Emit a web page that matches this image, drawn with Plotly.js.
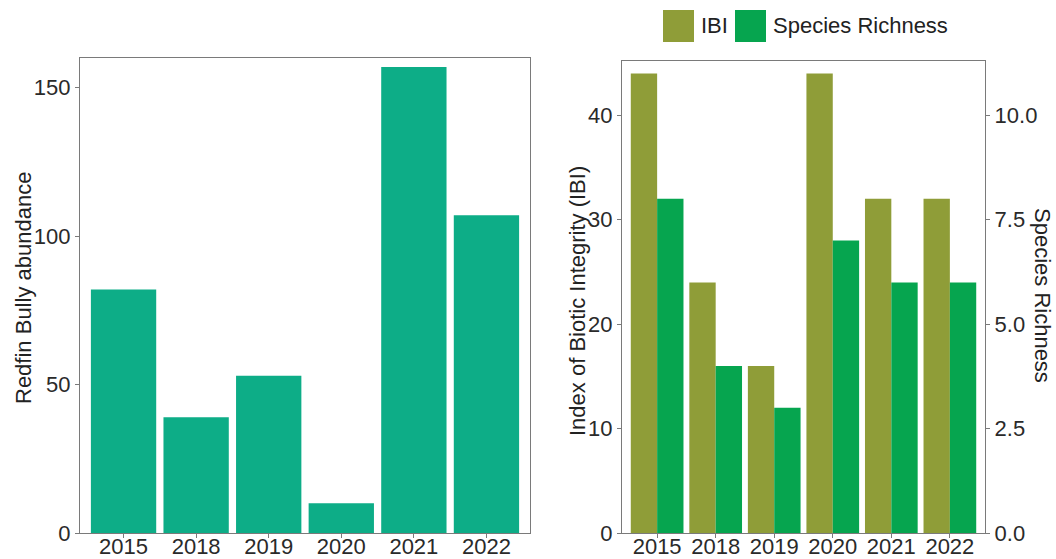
<!DOCTYPE html>
<html>
<head>
<meta charset="utf-8">
<script src="https://cdn.plot.ly/plotly-3.0.1.min.js"></script>
<style>html,body{margin:0;padding:0;background:#fff;}#chart{width:1056px;height:559px;}</style>
</head>
<body>
<div id="chart"></div>
<script>
// ---- data ----
const years = ['2015', '2018', '2019', '2020', '2021', '2022'];
const redfinAbundance = [82, 39, 53, 10, 157, 107];
const ibiValues = [44, 24, 16, 44, 32, 32];
const speciesRichness = [8, 4, 3, 7, 6, 6];
const seriesNames = ['IBI', 'Species Richness'];

// ---- styles ----
const W = 1056, H = 559;
const FONT = 'Liberation Sans, Arial, sans-serif';
const colRedfin = '#0DAD87';
const colIBI = '#8F9D38';
const colSR = '#06A54F';
const lineCol = '#7a7a7a';
const tickFont = {family: FONT, size: 22, color: '#2a2a2a'};

const px = v => v / W;
const py = v => 1 - v / H;

const baseAxis = {
  showline: true, linecolor: lineCol, linewidth: 1.2, mirror: true,
  ticks: 'outside', ticklen: 4, tickcolor: lineCol, tickwidth: 1,
  showgrid: false, zeroline: false, tickfont: tickFont, automargin: false
};

const xExtra = {type: 'category', range: [-0.6, 5.6], ticklabelstandoff: -11};

const traces = [
  {type: 'bar', x: years, y: redfinAbundance, xaxis: 'x', yaxis: 'y',
   marker: {color: colRedfin}, showlegend: false, hoverinfo: 'x+y'},
  {type: 'bar', name: seriesNames[0], x: years, y: ibiValues, xaxis: 'x2', yaxis: 'y2',
   offsetgroup: 'ibi', marker: {color: colIBI}, showlegend: false},
  {type: 'bar', name: seriesNames[1], x: years, y: speciesRichness, xaxis: 'x2', yaxis: 'y3',
   offsetgroup: 'sr', marker: {color: colSR}, showlegend: false}
];

const titleFont = {family: FONT, size: 22, color: '#222'};

const layout = {
  width: W, height: H,
  margin: {l: 0, r: 0, t: 0, b: 0},
  paper_bgcolor: '#fff', plot_bgcolor: '#fff',
  font: {family: FONT, size: 22, color: '#2a2a2a'},
  barmode: 'group', bargap: 0.1, bargroupgap: 0,
  showlegend: false,
  xaxis: Object.assign({}, baseAxis, xExtra, {
    domain: [px(80), px(530)], anchor: 'y'
  }),
  yaxis: Object.assign({}, baseAxis, {
    domain: [1 - 533 / H, 1 - 58 / H], range: [0, 160], tickvals: [0, 50, 100, 150], anchor: 'x'
  }),
  xaxis2: Object.assign({}, baseAxis, xExtra, {
    domain: [px(622), px(985)], anchor: 'y2'
  }),
  yaxis2: Object.assign({}, baseAxis, {
    domain: [1 - 533 / H, 1 - 61 / H], range: [0, 45.2], tickvals: [0, 10, 20, 30, 40],
    anchor: 'x2', mirror: false
  }),
  yaxis3: Object.assign({}, baseAxis, {
    overlaying: 'y2', side: 'right', anchor: 'x2', range: [0, 45.2 / 4],
    tickvals: [0, 2.5, 5, 7.5, 10], tickformat: '.1f', mirror: false
  }),
  shapes: [
    {type: 'rect', xref: 'paper', yref: 'paper', x0: px(663), x1: px(694), y0: py(42), y1: py(10),
     fillcolor: colIBI, line: {width: 0}},
    {type: 'rect', xref: 'paper', yref: 'paper', x0: px(735), x1: px(766), y0: py(42), y1: py(10),
     fillcolor: colSR, line: {width: 0}}
  ],
  annotations: [
    {text: 'Redfin Bully abundance', xref: 'paper', yref: 'paper', x: px(23), y: py(288),
     xanchor: 'center', yanchor: 'middle', textangle: -90, showarrow: false, font: titleFont},
    {text: 'Index of Biotic Integrity (IBI)', xref: 'paper', yref: 'paper', x: px(577), y: py(301),
     xanchor: 'center', yanchor: 'middle', textangle: -90, showarrow: false, font: titleFont},
    {text: 'Species Richness', xref: 'paper', yref: 'paper', x: px(1043), y: py(295),
     xanchor: 'center', yanchor: 'middle', textangle: 90, showarrow: false, font: titleFont},
    {text: seriesNames[0], xref: 'paper', yref: 'paper', x: px(699), y: py(26),
     xanchor: 'left', yanchor: 'middle', showarrow: false, font: titleFont},
    {text: seriesNames[1], xref: 'paper', yref: 'paper', x: px(771), y: py(26),
     xanchor: 'left', yanchor: 'middle', showarrow: false, font: titleFont}
  ]
};

Plotly.newPlot('chart', traces, layout, {staticPlot: true, displayModeBar: false});
</script>
</body>
</html>
